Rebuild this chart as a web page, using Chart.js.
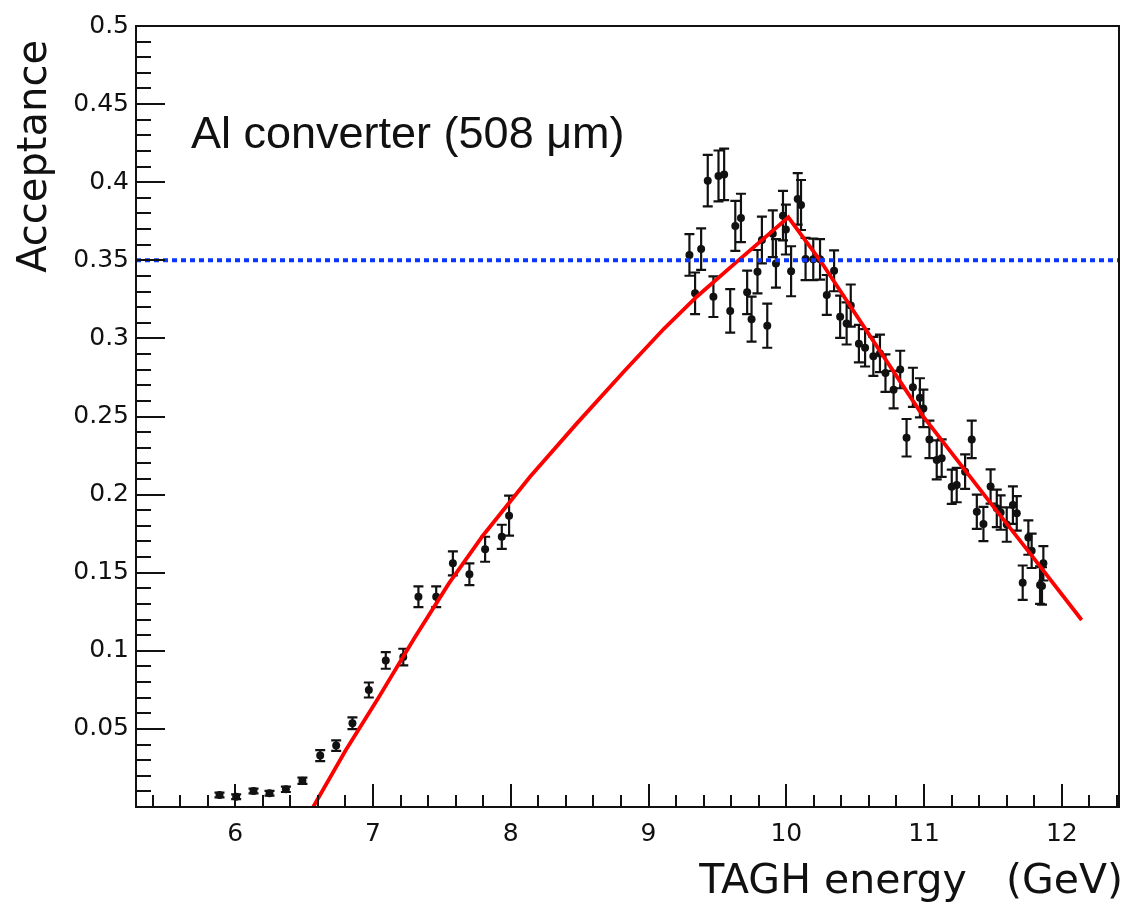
<!DOCTYPE html>
<html>
<head>
<meta charset="utf-8">
<title>Acceptance vs TAGH energy</title>
<script src="https://cdn.jsdelivr.net/npm/chart.js@4/dist/chart.umd.min.js"></script>
<style>
  html, body { margin: 0; padding: 0; background: #ffffff; }
  #wrap { position: relative; width: 1132px; height: 904px; }
</style>
</head>
<body>
<div id="wrap"><canvas id="chart"></canvas></div>
<script>
// Measured acceptance per TAGH counter (energy in GeV)
const energy = [
  5.886, 6.007, 6.133, 6.249, 6.368, 6.488, 6.617, 6.733, 6.851, 6.970,
  7.093, 7.220, 7.330, 7.459, 7.580, 7.700, 7.814, 7.935, 7.988,
  9.297, 9.338, 9.382, 9.430, 9.471, 9.508, 9.549, 9.593, 9.630, 9.671,
  9.716, 9.748, 9.791, 9.823, 9.862, 9.902, 9.925, 9.976, 9.997, 10.035,
  10.083, 10.107, 10.140,
  10.196, 10.245, 10.294, 10.347, 10.391, 10.438, 10.468,
  10.527, 10.572, 10.632, 10.680, 10.720, 10.779, 10.827, 10.873, 10.919, 10.970,
  10.995, 11.039, 11.092, 11.128, 11.201, 11.237, 11.298, 11.346, 11.383, 11.431,
  11.483, 11.528, 11.556, 11.600, 11.645, 11.673, 11.716, 11.757, 11.781, 11.842,
  11.856, 11.866
];
const acceptance = [
  0.0077, 0.0066, 0.0102, 0.0088, 0.0113, 0.0168, 0.0329, 0.0393, 0.0536, 0.0749,
  0.0938, 0.0960, 0.1346, 0.1346, 0.1560, 0.1490, 0.1650, 0.1730, 0.1865,
  0.3534, 0.3289, 0.3572, 0.4010, 0.3267, 0.4040, 0.4050, 0.3176, 0.3720, 0.3771,
  0.3295, 0.3123, 0.3427, 0.3630, 0.3081, 0.3670, 0.3480, 0.3786, 0.3697, 0.3430,
  0.3893, 0.3854, 0.3508,
  0.3506, 0.3506, 0.3278, 0.3433, 0.3139, 0.3096, 0.3210,
  0.2966, 0.2940, 0.2885, 0.2904, 0.2778, 0.2672, 0.2801, 0.2364, 0.2687, 0.2620,
  0.2552, 0.2353, 0.2222, 0.2233, 0.2050, 0.2061, 0.2147, 0.2353, 0.1890, 0.1812,
  0.2052, 0.1912, 0.1885, 0.1808, 0.1933, 0.1880, 0.1436, 0.1725, 0.1640, 0.1421,
  0.1415, 0.1560
];
const acceptanceError = [
  0.0015, 0.0015, 0.0015, 0.0015, 0.0017, 0.0020, 0.0035, 0.0034, 0.0038, 0.0048,
  0.0053, 0.0053, 0.0066, 0.0066, 0.0077, 0.0070, 0.0080, 0.0077, 0.0128,
  0.0133, 0.0133, 0.0133, 0.0165, 0.0130, 0.0163, 0.0165, 0.0139, 0.0160, 0.0155,
  0.0139, 0.0144, 0.0139, 0.0150, 0.0141, 0.0150, 0.0155, 0.0158, 0.0160, 0.0160,
  0.0165, 0.0160, 0.0135,
  0.0133, 0.0130, 0.0128, 0.0131, 0.0135, 0.0135, 0.0135,
  0.0120, 0.0120, 0.0125, 0.0120, 0.0120, 0.0120, 0.0120, 0.0120, 0.0125, 0.0125,
  0.0120, 0.0120, 0.0125, 0.0120, 0.0110, 0.0110, 0.0110, 0.0120, 0.0110, 0.0110,
  0.0110, 0.0120, 0.0110, 0.0110, 0.0120, 0.0110, 0.0110, 0.0110, 0.0110, 0.0120,
  0.0120, 0.0110
];

// Fitted acceptance curve, sampled
const fitEnergy = [6.566, 6.80, 7.04, 7.30, 7.55, 7.80, 8.14, 8.48, 8.82, 9.11,
                   9.35, 9.64, 10.015, 10.245, 10.60, 10.995, 11.503, 11.769, 12.144];
const fitAcceptance = [0.000, 0.036, 0.070, 0.108, 0.143, 0.174, 0.2114, 0.2456, 0.2787, 0.306,
                       0.3267, 0.349, 0.3775, 0.350, 0.3026, 0.2499, 0.1923, 0.1624, 0.1197];

// Reference level
const referenceLevel = 0.35;

// Axis ranges and labelled ticks
const xRange = [5.28, 12.415];
const yRange = [0, 0.5];
const xTickValues = [6, 7, 8, 9, 10, 11, 12];
const yTickValues = [0.05, 0.1, 0.15, 0.2, 0.25, 0.3, 0.35, 0.4, 0.45, 0.5];

const xTitle = 'TAGH energy   (GeV)';
const yTitle = 'Acceptance';
const label = 'Al converter (508 \u03BCm)';

const INK = '#111111';

// Vertical error bars with end caps, drawn beneath the markers
const errorBars = {
  id: 'errorBars',
  beforeDatasetsDraw(chart) {
    const { ctx, chartArea: a, scales: { x, y } } = chart;
    ctx.save();
    ctx.beginPath();
    ctx.rect(a.left, a.top, a.right - a.left, a.bottom - a.top);
    ctx.clip();
    ctx.strokeStyle = INK;
    ctx.lineWidth = 2.2;
    ctx.beginPath();
    for (let i = 0; i < energy.length; i++) {
      const px = x.getPixelForValue(energy[i]);
      const top = y.getPixelForValue(acceptance[i] + acceptanceError[i]);
      const bot = y.getPixelForValue(acceptance[i] - acceptanceError[i]);
      ctx.moveTo(px, top); ctx.lineTo(px, bot);
      ctx.moveTo(px - 5, top); ctx.lineTo(px + 5, top);
      ctx.moveTo(px - 5, bot); ctx.lineTo(px + 5, bot);
    }
    ctx.stroke();
    ctx.restore();
  }
};

// Frame with inward major and minor ticks
const frameTicks = {
  id: 'frameTicks',
  afterDatasetsDraw(chart) {
    const { ctx, chartArea: a, scales: { x, y } } = chart;
    ctx.save();
    ctx.strokeStyle = INK;
    ctx.lineWidth = 2;
    ctx.strokeRect(a.left, a.top, a.right - a.left, a.bottom - a.top);
    ctx.beginPath();
    const xStep = 0.2;
    for (let k = Math.ceil(x.min / xStep - 1e-6); k * xStep <= x.max + 1e-6; k++) {
      const v = k * xStep;
      const px = Math.round(x.getPixelForValue(v));
      const major = k % 5 === 0;
      ctx.moveTo(px, a.bottom);
      ctx.lineTo(px, a.bottom - (major ? 23 : 12));
    }
    const yStep = 0.01;
    for (let k = 1; k * yStep <= y.max + 1e-6; k++) {
      const py = Math.round(y.getPixelForValue(k * yStep));
      const major = k % 5 === 0;
      ctx.moveTo(a.left, py);
      ctx.lineTo(a.left + (major ? 29 : 15), py);
    }
    ctx.stroke();
    ctx.restore();
  }
};

// Axis titles and the converter label
const texts = {
  id: 'texts',
  afterDraw(chart) {
    const { ctx, chartArea: a } = chart;
    ctx.save();
    ctx.fillStyle = INK;
    ctx.textBaseline = 'alphabetic';

    ctx.font = '41px "DejaVu Sans"';
    ctx.textAlign = 'right';
    ctx.fillText(xTitle, a.right + 4, a.bottom + 86);

    ctx.save();
    ctx.font = '40px "DejaVu Sans"';
    ctx.translate(a.left - 90, a.top + 14);
    ctx.rotate(-Math.PI / 2);
    ctx.textAlign = 'right';
    ctx.fillText(yTitle, 0, 0);
    ctx.restore();

    ctx.font = '45px "Liberation Sans"';
    ctx.textAlign = 'left';
    ctx.fillText(label, a.left + 55, a.top + 122);
    ctx.restore();
  }
};

const points = energy.map((e, i) => ({ x: e, y: acceptance[i] }));
const fitPoints = fitEnergy.map((e, i) => ({ x: e, y: fitAcceptance[i] }));
const refPoints = [{ x: xRange[0], y: referenceLevel }, { x: xRange[1], y: referenceLevel }];

new Chart(document.getElementById('chart'), {
  type: 'scatter',
  data: {
    datasets: [
      {
        label: 'reference',
        data: refPoints,
        showLine: true,
        borderColor: '#0a36ff',
        borderWidth: 4,
        borderDash: [5, 4],
        borderCapStyle: 'butt',
        pointRadius: 0,
        fill: false
      },
      {
        label: 'fit',
        data: fitPoints,
        showLine: true,
        borderColor: '#ff0000',
        borderWidth: 3.8,
        pointRadius: 0,
        tension: 0,
        fill: false
      },
      {
        label: 'acceptance',
        data: points,
        showLine: false,
        pointRadius: 4,
        pointBackgroundColor: INK,
        pointBorderColor: INK,
        pointBorderWidth: 0
      }
    ]
  },
  options: {
    responsive: true,
    maintainAspectRatio: false,
    devicePixelRatio: 1,
    animation: false,
    events: [],
    layout: { padding: { top: 26, right: 13, left: 0, bottom: 0 } },
    plugins: {
      legend: { display: false },
      tooltip: { enabled: false },
      title: { display: false }
    },
    scales: {
      x: {
        type: 'linear',
        min: xRange[0],
        max: xRange[1],
        afterBuildTicks: (scale) => { scale.ticks = xTickValues.map(v => ({ value: v })); },
        afterFit: (scale) => { scale.height = 97; },
        grid: { display: false, drawTicks: false },
        border: { display: false },
        ticks: {
          autoSkip: false,
          maxRotation: 0,
          padding: 12,
          color: INK,
          font: { family: 'DejaVu Sans', size: 25 },
          callback: (v) => String(v)
        }
      },
      y: {
        type: 'linear',
        min: yRange[0],
        max: yRange[1],
        afterBuildTicks: (scale) => { scale.ticks = yTickValues.map(v => ({ value: v })); },
        afterFit: (scale) => { scale.width = 136; },
        grid: { display: false, drawTicks: false },
        border: { display: false },
        ticks: {
          autoSkip: false,
          padding: 7,
          color: INK,
          font: { family: 'DejaVu Sans', size: 25 },
          callback: (v) => String(+v.toFixed(2))
        }
      }
    }
  },
  plugins: [errorBars, frameTicks, texts]
});
</script>
</body>
</html>
